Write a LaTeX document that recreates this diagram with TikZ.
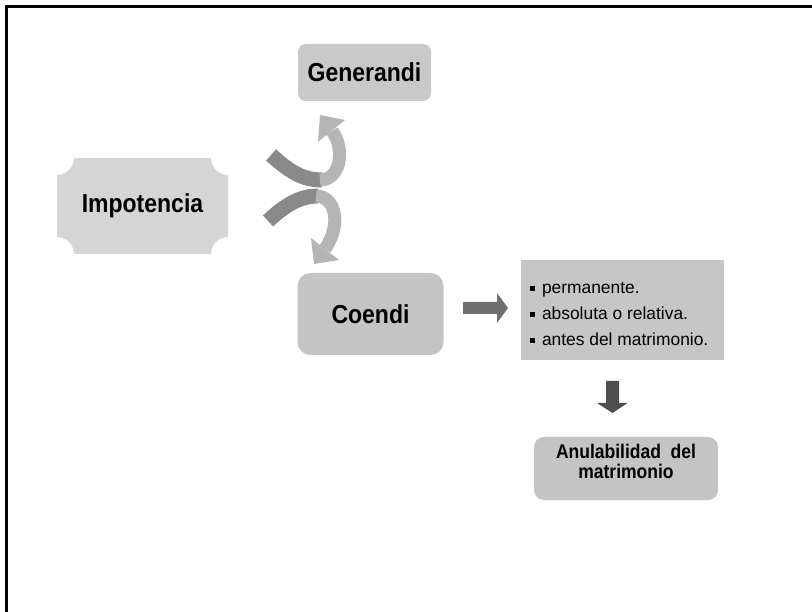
\documentclass[tikz,border=0pt]{standalone}
\usepackage{fontspec}
\usepackage{graphicx}
\setmainfont{Liberation Sans}
\usetikzlibrary{calc}
\definecolor{genfill}{HTML}{C9C9C9}
\definecolor{impfill}{HTML}{D5D5D5}
\definecolor{coefill}{HTML}{C4C4C4}
\definecolor{listfill}{HTML}{C6C6C6}
\definecolor{anufill}{HTML}{C4C4C4}
\definecolor{ribbondark}{HTML}{8A8A8A}
\definecolor{ribbonlight}{HTML}{B5B5B5}
\definecolor{arrowmid}{HTML}{6F6F6F}
\definecolor{arrowdeep}{HTML}{4F4F4F}
\newcommand\itm{\rule[2.5pt]{4.5pt}{4.5pt}\hspace{7.5pt}}
\newcommand\tall[1]{\scalebox{1}[1.13]{#1}}
\begin{document}
\begin{tikzpicture}[x=1pt,y=-1pt,
  title/.style={inner sep=0pt, font=\fontsize{23}{27}\selectfont\bfseries},
  ribbon/.style={draw=#1, line cap=butt},
]
\useasboundingbox (0,0) rectangle (812,612);
\fill[white] (0,0) rectangle (812,612);
% frame along the top and left edges
\draw[line width=3.5pt] (6.5,612) -- (6.5,6.5) -- (812,6.5);

% plaque behind "Impotencia" (concave corners, radius 17)
\fill[impfill] (74,158) -- (211,158) .. controls (211,167.4) and (218.6,175) .. (228,175)
  -- (228,237) .. controls (218.6,237) and (211,244.6) .. (211,254)
  -- (74,254) .. controls (74,244.6) and (66.4,237) .. (57,237)
  -- (57,175) .. controls (66.4,175) and (74,167.4) .. (74,158) -- cycle;
\node[title] (imp) at (142.5,206) {\tall{Impotencia}};

\node[title, fill=genfill, rounded corners=8pt, minimum width=133pt, minimum height=57pt]
  (gen) at (364.5,72.5) {\tall{Generandi}};
\node[title, fill=coefill, rounded corners=13pt, minimum width=146pt, minimum height=82pt]
  (coe) at (370.5,314) {\tall{Coendi}};

% list box and its items
\node[fill=listfill, minimum width=203pt, minimum height=100pt, inner sep=0pt] (lst) at (622.5,310) {};
\node[anchor=west, inner sep=0pt, align=left, font=\fontsize{17.4}{26}\selectfont]
  (lsttext) at ([xshift=9pt, yshift=-3.5pt]lst.west)
  {\itm permanente.\\ \itm absoluta o relativa.\\ \itm antes del matrimonio.};

% result box
\node[fill=anufill, rounded corners=10pt, minimum width=184pt, minimum height=63pt, inner sep=0pt]
  (anu) at (626,468.5) {};
\node[inner sep=0pt, align=center, font=\fontsize{17.5}{20}\selectfont\bfseries]
  (anutext) at ([yshift=7pt]anu.center) {\tall{Anulabilidad\ \ del}\\ \tall{matrimonio}};

% curved ribbon arrows from Impotencia towards Generandi and Coendi
\draw[ribbon=ribbondark, line width=15pt] (271,155) .. controls (290,172) and (303,180) .. (322,180);
\draw[ribbon=ribbonlight, line width=13pt] (320,180) .. controls (340,180) and (346,150) .. (332,131);
\fill[ribbonlight] (320,115) -- (345,120) -- (318,142) -- cycle;

\draw[ribbon=ribbondark, line width=15pt] (268,221) .. controls (285,205) and (300,196) .. (318,196);
\draw[ribbon=ribbonlight, line width=13pt] (316,196) .. controls (334,196) and (343,222) .. (325,249);
\fill[ribbonlight] (314,264) -- (311,238) -- (339,260) -- cycle;

% block arrow Coendi -> list
\coordinate (ra) at (463,308);
\fill[arrowmid] (ra) ++(0,-6) -- ++(34,0) -- ++(0,-9) -- ++(11,15) -- ++(-11,15) -- ++(0,-9) -- ++(-34,0) -- cycle;
% block arrow list -> Anulabilidad
\coordinate (da) at (612.5,381);
\fill[arrowdeep] (da) ++(-6.5,0) -- ++(13,0) -- ++(0,22) -- ++(8.5,0) -- ++(-15,10) -- ++(-15.5,-10) -- ++(9,0) -- cycle;
\end{tikzpicture}
\end{document}
